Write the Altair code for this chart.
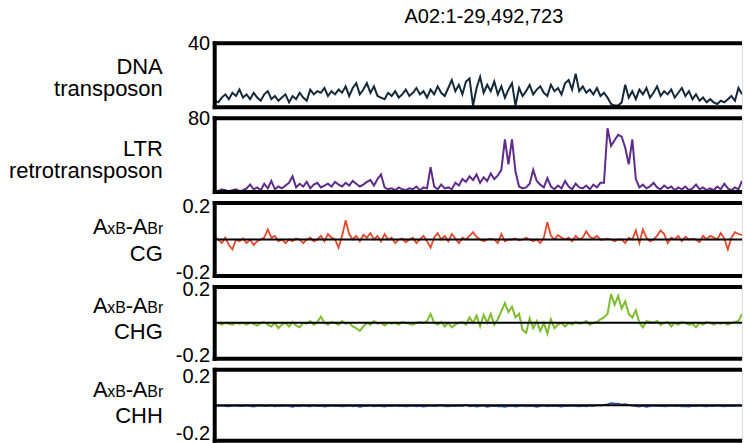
import altair as alt
import pandas as pd

FONT = "Liberation Sans"

# ---------------- data ----------------
dna_transposon = [
    4, 3, 6, 8, 5, 9, 7, 11, 6, 8,
    5, 9, 6, 4, 8, 10, 5, 7, 4, 6,
    8, 3, 7, 5, 9, 6, 4, 11, 8, 10,
    9, 12, 7, 10, 8, 11, 9, 13, 7, 12,
    15, 8, 11, 15, 9, 13, 7, 6, 5, 9,
    7, 10, 6, 8, 11, 7, 9, 12, 8, 10,
    6, 11, 8, 13, 9, 7, 12, 17, 10, 14,
    8, 16, 18, 1, 12, 19, 9, 14, 10, 16,
    8, 13, 6, 11, 15, 1, 12, 7, 10, 14,
    8, 11, 13, 9, 7, 14, 10, 12, 8, 15,
    17, 11, 21, 10, 13, 9, 11, 8, 12, 7,
    9, 6, 2, 1, 1, 3, 14, 6, 10, 5,
    11, 8, 12, 6, 9, 13, 7, 10, 8, 11,
    6, 9, 12, 7, 10, 5, 8, 4, 6, 3,
    5, 3, 2, 4, 3, 5, 7, 4, 12, 8,
]

ltr_retrotransposon = [
    2, 1, 3, 2, 1, 2, 3, 1, 2, 4,
    8, 3, 5, 2, 9, 4, 12, 3, 6, 4,
    7, 10, 17, 5, 9, 6, 11, 4, 8, 10,
    5, 7, 9, 6, 11, 8, 6, 10, 7, 12,
    9, 6, 8, 11, 13, 7, 14, 19, 5, 3,
    4, 2, 5, 3, 2, 4, 3, 6, 2, 5,
    4, 27, 6, 3, 8, 4, 5, 3, 10, 7,
    14, 11, 17, 13, 19, 10, 16, 12, 20, 14,
    18, 24, 57, 30, 57, 22, 6, 4, 5, 9,
    24, 12, 8, 5, 15, 6, 3, 7, 4, 12,
    6, 3, 9, 5, 4, 7, 3, 8, 5, 10,
    10, 69, 50, 56, 62, 60, 48, 30, 57, 14,
    5, 8, 4, 6, 10, 5, 3, 7, 4, 6,
    2, 5, 3, 6, 2, 4, 8, 3, 5, 2,
    4, 2, 6, 3, 9, 4, 2, 5, 3, 12,
]

cg_diff = [
    0.01, 0.0, -0.02, 0.01, -0.03, -0.055, 0.0, -0.01, 0.005, -0.02,
    0.0, -0.03, -0.01, 0.0, 0.01, 0.055, 0.01, 0.02, -0.01, 0.0,
    -0.02, 0.0, -0.01, 0.005, 0.0, -0.02, 0.0, 0.01, -0.01, 0.0,
    0.02, -0.01, 0.03, 0.01, 0.0, -0.045, 0.02, 0.105, 0.03, 0.0,
    0.02, -0.01, 0.025, 0.01, 0.035, 0.0, 0.02, -0.01, 0.03, 0.0,
    0.01, -0.02, 0.0, 0.005, -0.015, 0.0, 0.01, -0.02, 0.0, 0.02,
    -0.01, -0.045, 0.01, 0.035, 0.0, 0.02, -0.01, 0.03, 0.005, -0.02,
    0.01, 0.0, 0.02, 0.04, 0.015, 0.0, -0.01, 0.0, 0.005, 0.0,
    -0.02, 0.03, -0.01, 0.0, 0.0, 0.005, -0.005, 0.0, 0.01, 0.0,
    -0.01, 0.0, -0.02, 0.01, 0.095, 0.02, 0.0, 0.025, 0.01, 0.0,
    0.01, -0.01, 0.02, 0.0, 0.01, 0.045, 0.015, 0.005, 0.02, 0.0,
    0.0, 0.005, 0.0, -0.01, 0.0, 0.0, -0.02, 0.01, 0.0, 0.05,
    -0.02, 0.055, 0.01, -0.01, 0.0, 0.02, 0.05, 0.03, -0.02, 0.01,
    0.0, 0.02, -0.01, 0.015, 0.0, 0.005, 0.0, -0.015, 0.02, 0.0,
    0.02, 0.01, 0.0, 0.035, 0.005, -0.055, 0.01, 0.04, 0.03, 0.025,
]

chg_diff = [
    -0.005, 0.0, -0.01, 0.0, -0.005, -0.01, 0.0, -0.005, 0.0, -0.01,
    0.0, -0.005, -0.015, 0.0, 0.005, -0.01, -0.02, 0.0, -0.03, -0.01,
    0.0, -0.02, 0.005, -0.015, -0.025, 0.0, -0.005, 0.01, -0.01, 0.005,
    0.035, 0.0, -0.01, 0.005, 0.0, -0.01, 0.01, -0.005, 0.0, -0.02,
    -0.03, -0.045, -0.02, 0.0, -0.01, 0.01, -0.005, 0.0, -0.015, 0.0,
    -0.005, 0.0, -0.01, 0.005, 0.0, -0.005, -0.01, 0.0, 0.005, 0.0,
    0.01, 0.05, 0.0, -0.01, 0.005, -0.02, 0.0, -0.025, -0.01, 0.0,
    0.005, -0.01, 0.03, 0.0, 0.04, -0.02, 0.045, 0.0, 0.05, -0.01,
    0.02, 0.065, 0.11, 0.06, 0.09, 0.03, 0.05, -0.04, -0.055, 0.025,
    -0.03, 0.01, -0.045, 0.0, -0.06, 0.02, -0.03, -0.01, 0.0, -0.02,
    0.0, -0.01, 0.005, -0.005, 0.0, 0.01, -0.01, 0.0, 0.005, 0.02,
    0.03, 0.05, 0.16, 0.1, 0.15, 0.08, 0.12, 0.05, 0.03, 0.07,
    0.0, -0.025, 0.01, 0.005, 0.0, 0.01, -0.01, 0.0, 0.005, -0.02,
    0.0, -0.01, 0.005, 0.0, -0.01, -0.005, -0.025, 0.0, -0.01, 0.005,
    0.0, -0.01, 0.0, -0.005, 0.0, -0.01, 0.0, 0.005, 0.01, 0.05,
]

chh_diff = [
    -0.004, -0.006, -0.003, -0.005, -0.007, -0.004, -0.002, -0.005, -0.006, -0.003,
    -0.005, -0.008, -0.004, -0.002, -0.006, -0.005, -0.003, -0.007, -0.004, -0.006,
    -0.003, -0.005, -0.009, -0.004, -0.006, -0.002, -0.005, -0.007, -0.003, -0.006,
    -0.004, -0.008, -0.005, -0.003, -0.006, -0.004, -0.007, -0.005, -0.002, -0.006,
    -0.004, -0.009, -0.005, -0.006, -0.003, -0.007, -0.004, -0.006, -0.008, -0.004,
    -0.005, -0.003, -0.006, -0.004, -0.007, -0.005, -0.002, -0.006, -0.004, -0.008,
    -0.005, -0.003, -0.006, -0.004, -0.001, -0.005, -0.007, -0.004, -0.006, -0.003,
    -0.005, 0.002, -0.006, -0.004, -0.008, -0.005, -0.003, -0.009, -0.006, -0.004,
    -0.007, -0.005, -0.01, -0.006, -0.004, -0.008, -0.005, -0.003, -0.007, -0.004,
    -0.006, -0.009, -0.005, -0.003, -0.007, -0.004, -0.006, -0.005, -0.008, -0.004,
    -0.006, -0.003, -0.005, -0.007, -0.004, -0.006, -0.002, -0.005, 0.0, -0.003,
    0.002, 0.006, 0.012, 0.009, 0.01, 0.004, 0.007, 0.001, -0.003, -0.006,
    -0.008, -0.004, -0.009, -0.005, -0.003, -0.006, -0.004, -0.007, -0.005, -0.003,
    -0.006, -0.004, -0.007, -0.005, -0.008, -0.004, -0.006, -0.003, -0.005, -0.007,
    -0.004, -0.006, -0.003, -0.005, -0.007, -0.004, -0.006, -0.005, -0.003, -0.005,
]

chart_title = "A02:1-29,492,723"

# ---------------- layout ----------------
W = 528
HEIGHTS = [64, 74, 73, 72, 71]
TX = -52  # right edge of the left-hand titles, relative to plot left
N = len(dna_transposon)


def text_mark(t, x, y, size=22, align="right"):
    return alt.Chart(pd.DataFrame({"t": [t]})).mark_text(
        align=align, baseline="alphabetic", fontSize=size, font=FONT, color="black"
    ).encode(text="t:N", x=alt.value(x), y=alt.value(y))


def frame(H):
    one = pd.DataFrame({"k": [0]})
    top = alt.Chart(one).mark_rule(color="black", strokeWidth=4).encode(
        x=alt.value(-2), x2=alt.value(W), y=alt.value(0))
    bot = alt.Chart(one).mark_rule(color="black", strokeWidth=4).encode(
        x=alt.value(-2), x2=alt.value(W), y=alt.value(H))
    left = alt.Chart(one).mark_rule(color="black", strokeWidth=4).encode(
        x=alt.value(0), y=alt.value(-2), y2=alt.value(H + 2))
    return [top, bot, left]


def panel(vals, color, dom, H, ticks, labels, zero, flush_offset=None, sw=2.0):
    df = pd.DataFrame({"i": list(range(len(vals))), "v": vals})
    if dom[0] < 0:
        lexpr = "datum.value < 0 ? '-' + format(-datum.value, '.1f') : format(datum.value, '.1f')"
    else:
        lexpr = "format(datum.value, 'd')"
    axis_kw = dict(values=ticks, domain=False, ticks=False, grid=False,
                   labelFontSize=20, labelFont=FONT, labelColor="black",
                   labelPadding=5, labelExpr=lexpr, title=None)
    if flush_offset is None:
        axis_kw.update(labelFlush=False, labelBaseline="middle")
    else:
        axis_kw.update(labelFlush=True, labelFlushOffset=flush_offset)
    yaxis = alt.Axis(**axis_kw)
    line = alt.Chart(df).mark_line(color=color, strokeWidth=sw, clip=True).encode(
        x=alt.X("i:Q", scale=alt.Scale(domain=[0, N - 1], nice=False, zero=False), axis=None),
        y=alt.Y("v:Q", scale=alt.Scale(domain=dom, nice=False, zero=False), axis=yaxis),
    )
    layers = [line]
    if zero:
        layers.append(
            alt.Chart(pd.DataFrame({"v": [0.0]})).mark_rule(color="black", strokeWidth=2).encode(
                y=alt.Y("v:Q"))
        )
    layers += frame(H)
    layers += labels
    return alt.layer(*layers).properties(width=W, height=H)


def axb(y):
    return [
        text_mark("A", -122, y, 22, "left"),
        text_mark("xB", -107.5, y, 16, "left"),
        text_mark("-", -89, y, 22, "left"),
        text_mark("A", -82, y, 22, "left"),
        text_mark("Br", -67.5, y, 16, "left"),
    ]


p1 = panel(dna_transposon, "#13283b", [0, 40], HEIGHTS[0], [40],
           [text_mark("DNA", TX, 31), text_mark("transposon", TX, 53),
            text_mark(chart_title, 269.5, -20, 20, "center")],
           zero=False)
p2 = panel(ltr_retrotransposon, "#5e2a8c", [0, 80], HEIGHTS[1], [80],
           [text_mark("LTR", TX, 38), text_mark("retrotransposon", TX, 60)],
           zero=False)
p3 = panel(cg_diff, "#e4472b", [-0.2, 0.2], HEIGHTS[2], [-0.2, 0.2],
           axb(31) + [text_mark("CG", TX, 58)], zero=True, flush_offset=7, sw=1.8)
p4 = panel(chg_diff, "#7cbd2f", [-0.2, 0.2], HEIGHTS[3], [-0.2, 0.2],
           axb(26) + [text_mark("CHG", TX, 52)], zero=True, flush_offset=7)
p5 = panel(chh_diff, "#3050a0", [-0.2, 0.2], HEIGHTS[4], [-0.2, 0.2],
           axb(27) + [text_mark("CHH", TX, 53)], zero=True, flush_offset=3, sw=1.6)

chart = alt.vconcat(p1, p2, p3, p4, p5, spacing=11, bounds="flush").properties(
    padding={"left": 8, "top": 6, "right": 0, "bottom": 0}
).configure_view(stroke=None).configure(background="white")

chart.save("out.html", embed_options={"renderer": "svg", "actions": False})
